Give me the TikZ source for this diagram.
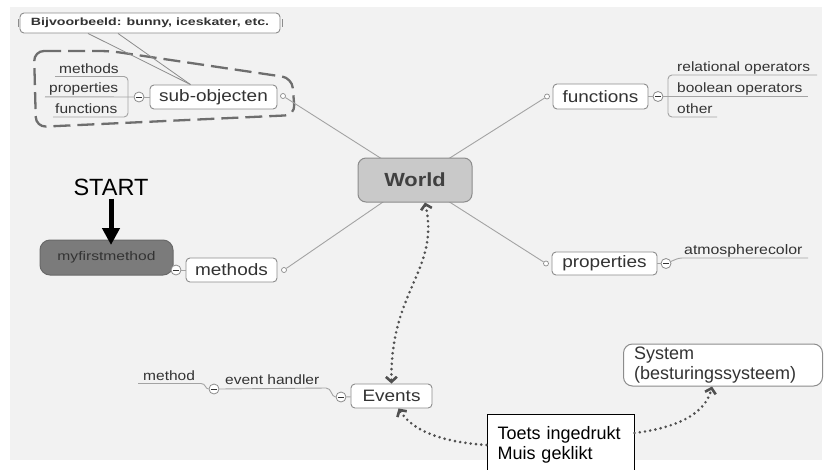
\documentclass[tikz,border=0pt]{standalone}
\usepackage{fontspec}
\setmainfont{Liberation Sans}
\usetikzlibrary{arrows.meta}
\definecolor{bg}{HTML}{F2F2F2}
\definecolor{edge}{HTML}{A3A3A3}
\definecolor{edgedk}{HTML}{8C8C8C}
\definecolor{txt}{HTML}{333333}
\definecolor{worldfill}{HTML}{C9C9C9}
\definecolor{darkbox}{HTML}{7B7B7B}
\definecolor{dotc}{HTML}{505050}
\definecolor{dashc}{HTML}{6E6E6E}
\newcommand{\hs}[2]{\scalebox{#1}[1]{#2}}
\begin{document}
\begin{tikzpicture}[x=1pt,y=-1pt,
  box/.style={draw=edgedk, fill=white, rounded corners=4pt, line width=0.9pt, inner sep=0pt, text=txt},
  mmf/.style={font=\fontsize{16.5}{19}\selectfont},
  lbl/.style={font=\fontsize{13.5}{16}\selectfont, text=txt, inner sep=0pt, anchor=base west},
  cbtn/.style={circle, draw=edgedk, fill=white, line width=0.8pt, minimum size=10pt, inner sep=0pt,
    path picture={\draw[line width=1pt, txt] ([xshift=-2.6pt]path picture bounding box.center) -- ([xshift=2.6pt]path picture bounding box.center);}},
  cpt/.style={circle, draw=edgedk, fill=white, line width=0.7pt, minimum size=5pt, inner sep=0pt},
  link/.style={draw=edge, line width=0.9pt},
  dotline/.style={draw=dotc, line width=2.9pt, line cap=round, dash pattern=on 0pt off 5.3pt},
  barb/.tip={Straight Barb[length=5pt,width=11pt,line width=2.6pt]}
]
\useasboundingbox (0,0) rectangle (824,469);
\fill[bg] (10,7) rectangle (822,460);

% dashed group outline
\draw[dashc, line width=2.3pt, dash pattern=on 17pt off 7pt, rounded corners=10pt]
  (34,51) -- (110,51) -- (292,78) -- (295,115) -- (36,127) -- cycle;

% Bijvoorbeeld
\node[box, minimum width=260pt, minimum height=20pt, font=\bfseries\fontsize{10.5}{12}\selectfont] (bij) at (150,23) {\hs{1.35}{Bijvoorbeeld: bunny, iceskater, etc.}};
\draw[edgedk, line width=0.8pt] ([xshift=-1.5pt,yshift=4pt]bij.west) -- ([xshift=-1.5pt,yshift=-4pt]bij.west);
\draw[edgedk, line width=0.8pt] ([xshift=2pt,yshift=4pt]bij.east) -- ([xshift=2pt,yshift=-4pt]bij.east);

% sub-objecten
\node[box, mmf, minimum width=127pt, minimum height=24pt] (sub) at (213.5,97) {\hs{1.15}{sub-objecten}};
\node[cbtn] (c1) at (139,97) {};
\node[cpt] (p1) at (283,96) {};
\draw[link] (c1) -- (sub);
\node[lbl] (sm) at (59,73) {\hs{1.15}{methods}};
\node[lbl] (sp) at (49,92.5) {\hs{1.15}{properties}};
\node[lbl] (sf) at (55,113) {\hs{1.15}{functions}};
\coordinate (smu) at (55,76.5);
\coordinate (spu) at (45,96.8);
\coordinate (sfu) at (53,117);
\draw[link, rounded corners=4pt] (smu) -- (128,76.5) -- (128,117) -- (sfu);
\draw[link] (spu) -- (c1);
\draw[edgedk, line width=0.8pt] ([xshift=-62pt]bij.south) -- ([xshift=-23pt]sub.north);
\draw[edgedk, line width=0.8pt] ([xshift=-32pt]bij.south) -- ([xshift=-23pt]sub.north);

% functions
\node[box, mmf, minimum width=95pt, minimum height=25pt] (func) at (600.5,96.5) {\hs{1.15}{functions}};
\node[cbtn] (c2) at (658,96.5) {};
\node[cpt] (p2) at (547,96.5) {};
\draw[link] (func) -- (c2);
\node[lbl] (fr) at (677,71.5) {\hs{1.15}{relational operators}};
\node[lbl] (fb) at (677,92.5) {\hs{1.15}{boolean operators}};
\node[lbl] (fo) at (677,113.5) {\hs{1.15}{other}};
\coordinate (fru) at (817,75);
\coordinate (fbu) at (808,96.5);
\coordinate (fou) at (717,117);
\draw[link, rounded corners=4pt] (fru) -- (668,75) -- (668,117) -- (fou);
\draw[link] (c2) -- (fbu);

% methods + myfirstmethod
\node[box, mmf, minimum width=91pt, minimum height=24pt] (meth) at (231.5,270) {\hs{1.15}{methods}};
\node[cpt] (p3) at (284,270) {};
\node[draw=darkbox!85!black, fill=darkbox, rounded corners=10pt, line width=1pt, minimum width=133pt, minimum height=35pt, font=\fontsize{12.5}{14}\selectfont, text=txt, inner sep=0pt] (myf) at (106.5,257.5) {\hs{1.25}{myfirstmethod}};
\node[cbtn] (c3) at (176,270) {};
\draw[link] (c3) -- (meth);

% properties
\node[box, mmf, minimum width=105pt, minimum height=23pt] (prop) at (604.5,263.5) {\hs{1.15}{properties}};
\node[cpt] (p4) at (546,263.5) {};
\node[cbtn] (c4) at (666,263.5) {};
\draw[link] (prop) -- (c4);
\node[lbl, font=\fontsize{13.8}{16}\selectfont] (atm) at (684,254) {\hs{1.15}{atmospherecolor}};
\coordinate (atu) at (808,258);
\draw[link, rounded corners=3pt] (c4) -- (679,258) -- (atu);

% Events
\node[box, mmf, minimum width=81pt, minimum height=24pt] (ev) at (391.5,396) {\hs{1.15}{Events}};
\node[cbtn] (c5) at (341,397) {};
\node[cbtn] (c6) at (214,389) {};
\draw[link] (c5) -- (ev);
\node[lbl] (evh) at (225,384.5) {\hs{1.15}{event handler}};
\node[lbl] (mth) at (143,380) {\hs{1.15}{method}};
\coordinate (mthu) at (138,383.5);
\draw[link] (c6.east) -- (326,388) .. controls (332,388) and (331,397) .. (c5.west);
\draw[link] (mthu) -- (201,383.5) .. controls (206,383.5) and (205,389) .. (c6.west);

% World
\coordinate (wc) at (415,180);
\draw[link] (p1) -- (wc);
\draw[link] (p2) -- (wc);
\draw[link] (p3) -- (wc);
\draw[link] (p4) -- (wc);
\node[draw=edgedk, fill=worldfill, rounded corners=8pt, line width=1pt, minimum width=114pt, minimum height=44pt, font=\bfseries\fontsize{19}{22}\selectfont, text=black!75, inner sep=0pt] (world) at (wc) {\hs{1.15}{World}};

% START
\node[font=\fontsize{23.5}{26}\selectfont, inner sep=0pt] (start) at (111,187) {START};
\coordinate (tip) at (111,245);
\draw[line width=5pt, -{Triangle[length=17pt,width=17pt]}] ([yshift=-3pt]start.south) -- (tip);

% System
\node[draw=edgedk, fill=white, rounded corners=9pt, line width=1pt, minimum width=199pt, minimum height=42pt, text width=178pt, align=left, font=\fontsize{18}{20}\selectfont, text=txt, inner sep=0pt] (sys) at (723,365) {System\\(besturingssysteem)};

% Toets
\node[draw=black, fill=white, line width=1pt, minimum width=147pt, minimum height=62pt, text width=126pt, align=left, font=\fontsize{18}{20}\selectfont, inner sep=0pt] (toets) at (560.5,445) {Toets ingedrukt\\Muis geklikt};

% dotted connectors
\draw[dotline, barb-barb] ([xshift=10pt]world.south) .. controls (440,270) and (390,290) .. (ev.north);
\draw[dotline, -barb] (toets.west) .. controls (440,442) and (412,430) .. ([xshift=7pt]ev.south);
\draw[dotline, -barb] ([yshift=12pt]toets.east) .. controls (675,428) and (705,415) .. ([xshift=-11pt]sys.south);
\end{tikzpicture}
\end{document}
